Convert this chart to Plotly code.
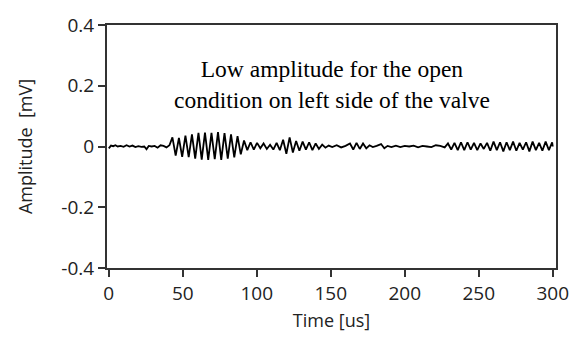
import plotly.graph_objects as go

# Waveform vertices (time in us, amplitude in mV)
time_us = [
    0, 1.5, 3, 4.5, 6, 8, 10, 12, 14, 16, 18, 20, 22, 24, 25.5, 27, 29, 31, 33, 35, 37, 39, 41,
    43, 45.2, 47.4, 49.6, 51.8, 54, 56.2, 58.4, 60.6, 62.8, 65, 67.2, 69.4, 71.6, 73.8, 76,
    78.2, 80.4, 82.6, 84.8, 87, 89.2, 91.4, 93.6, 95.8, 98, 100.2, 102.4, 104.6, 106.8,
    109, 111.2, 113.4, 115.6, 117.8, 120, 122.2, 124.4, 126.6, 128.8, 131, 133.2, 135.4,
    137.6, 139.8, 142, 144.2, 146.4, 148.6, 151, 154, 157, 160, 163, 165.2, 167.4, 169.6,
    171.8, 174, 176.2, 178.4, 181, 184, 186.2, 188.4, 191, 194, 197, 200, 203, 206, 209,
    212, 215, 218, 221, 224, 227, 229.2, 231.4, 233.6, 235.8, 238, 240.2, 242.4, 244.6,
    246.8, 249, 251.2, 253.4, 255.6, 257.8, 260, 262.2, 264.4, 266.6, 268.8, 271, 273.2,
    275.4, 277.6, 279.8, 282, 284.2, 286.4, 288.6, 290.8, 293, 295.2, 297.4, 299.6, 300,
]
amplitude_mv = [
    -0.006, 0.003, 0.001, 0.004, 0.0, 0.002, -0.001, 0.004, 0.0, 0.003, -0.002, 0.001, -0.001, 0.0, -0.009, 0.002, 0.0, 0.002, -0.004, 0.004, 0.002, -0.003, 0.004,
    0.030, -0.030, 0.028, -0.034, 0.036, -0.035, 0.040, -0.040, 0.045, -0.043, 0.046, -0.044, 0.045, -0.042, 0.047,
    -0.044, 0.044, -0.040, 0.040, -0.036, 0.034, -0.026, 0.020, -0.012, 0.014, -0.010, 0.012, -0.006, 0.010,
    -0.008, 0.006, -0.010, 0.012, -0.012, 0.022, -0.024, 0.030, -0.020, 0.018, -0.014, 0.016, -0.010,
    0.014, -0.012, 0.010, -0.008, 0.006, -0.004, 0.003, -0.002, 0.004, -0.003, 0.002, 0.010, -0.010, 0.012,
    -0.008, 0.010, -0.006, 0.004, -0.002, 0.002, 0.008, -0.006, 0.002, -0.002, 0.003, -0.002, 0.002, 0.0, 0.003,
    -0.003, 0.002, 0.0, -0.002, 0.004, 0.002, -0.003, 0.010, -0.010, 0.012, -0.012, 0.014, -0.012, 0.014,
    -0.010, 0.012, -0.012, 0.010, -0.008, 0.012, -0.014, 0.016, -0.012, 0.014, -0.016, 0.014, -0.012,
    0.016, -0.014, 0.012, -0.010, 0.014, -0.016, 0.016, -0.012, 0.012, -0.014, 0.016, -0.012, 0.014, 0.0,
]

x_ticks = [0, 50, 100, 150, 200, 250, 300]
y_ticks = [-0.4, -0.2, 0, 0.2, 0.4]
y_tick_labels = ["-0.4", "-0.2", "0", "0.2", "0.4"]

note_lines = ["Low amplitude for the open", "condition on left side of the valve"]

fig = go.Figure()
fig.add_trace(go.Scatter(
    x=time_us, y=amplitude_mv, mode="lines",
    line=dict(color="black", width=1.8),
    hoverinfo="skip", showlegend=False,
))

fig.add_annotation(
    x=0.5, y=0.757, xref="paper", yref="paper",
    text="<br>".join(note_lines), showarrow=False,
    font=dict(family="Liberation Serif", size=23.5, color="black"),
    align="center", xanchor="center", yanchor="middle",
)

axis_common = dict(
    showgrid=False, zeroline=False, showline=True, mirror=True,
    linecolor="#333333", linewidth=2, ticks="outside", ticklen=7,
    tickcolor="#333333", tickwidth=2,
    tickfont=dict(family="Open Sans", size=19, color="#222222"),
)

fig.update_xaxes(
    range=[-1.2, 302.2], tickvals=x_ticks,
    title=dict(text="Time [us]", font=dict(family="Open Sans", size=18, color="#222222"), standoff=10),
    **axis_common,
)
fig.update_yaxes(
    range=[-0.4, 0.4], tickvals=y_ticks, ticktext=y_tick_labels,
    title=dict(text="Amplitude  [mV]", font=dict(family="Open Sans", size=18, color="#222222"), standoff=24),
    **axis_common,
)

fig.update_layout(
    width=581, height=351,
    margin=dict(l=107, r=16, t=15, b=83),
    plot_bgcolor="white", paper_bgcolor="white",
)

fig.write_html("out.html")
